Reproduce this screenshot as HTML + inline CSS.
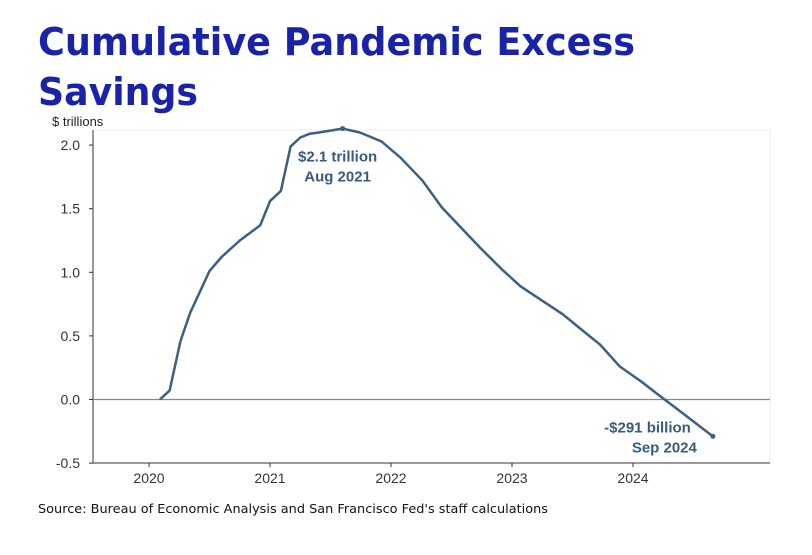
<!DOCTYPE html>
<html><head><meta charset="utf-8"><style>
body{margin:0;background:#fff;width:812px;height:550px;overflow:hidden;font-family:"Liberation Sans",sans-serif}
</style></head><body>
<svg id="chart" width="812" height="550" xmlns="http://www.w3.org/2000/svg">
<text x="38" y="55" font-family="DejaVu Sans, sans-serif" font-weight="bold" font-size="38" fill="#1a22a8" textLength="597" lengthAdjust="spacingAndGlyphs">Cumulative Pandemic Excess</text>
<text x="38" y="105" font-family="DejaVu Sans, sans-serif" font-weight="bold" font-size="38" fill="#1a22a8" textLength="160" lengthAdjust="spacingAndGlyphs">Savings</text>
<text x="52" y="126" font-size="13" fill="#222">$ trillions</text>
<g id="axes"></g>
<path id="series-line" fill="none" stroke="#3d5f80" stroke-width="2.5" stroke-linejoin="round"/>
<g id="marks"></g>
<text x="38" y="513" font-family="DejaVu Sans, sans-serif" font-size="12.5" fill="#111" textLength="510" lengthAdjust="spacingAndGlyphs">Source: Bureau of Economic Analysis and San Francisco Fed's staff calculations</text>
</svg>
<script>
const dates=[2020.09,2020.17,2020.26,2020.34,2020.50,2020.60,2020.75,2020.92,2021.0,2021.09,2021.17,2021.25,2021.33,2021.41,2021.60,2021.74,2021.92,2022.08,2022.26,2022.42,2022.74,2022.92,2023.07,2023.42,2023.60,2023.73,2023.89,2024.07,2024.22,2024.40,2024.66];
const values=[0.0,0.07,0.46,0.68,1.01,1.12,1.25,1.37,1.56,1.64,1.99,2.06,2.09,2.10,2.13,2.10,2.03,1.90,1.72,1.51,1.19,1.02,0.89,0.67,0.53,0.43,0.26,0.14,0.03,-0.10,-0.29];
const yTicks=[-0.5,0.0,0.5,1.0,1.5,2.0];
const xTicks=[2020,2021,2022,2023,2024];
const annotations=[{i:14,lines:["$2.1 trillion","Aug 2021"]},{i:30,lines:["-$291 billion","Sep 2024"]}];
const NS="http://www.w3.org/2000/svg";
const L=93,R=770,T=130,B=463;
const xs=t=>149+(t-2020)*121;
const ys=v=>399.5-v*127.2;
function mk(tag,attrs,parent){const e=document.createElementNS(NS,tag);for(const k in attrs)e.setAttribute(k,attrs[k]);parent.appendChild(e);return e;}
const ax=document.getElementById('axes');
let e=mk('rect',{x:L,y:T,width:R-L,height:B-T,fill:'none',stroke:'#eee'},ax);


e=mk('line',{x1:L,x2:L,y1:T,y2:B,stroke:'#333','stroke-width':1},ax);


e=mk('line',{x1:L,x2:R,y1:B,y2:B,stroke:'#333','stroke-width':1},ax);


e=mk('line',{x1:L,x2:R,y1:ys(0),y2:ys(0),stroke:'#888','stroke-width':1.3},ax);


yTicks.forEach(v=>{
 const y=ys(v);
 let t=mk('line',{x1:L-4,x2:L,y1:y,y2:y,stroke:'#333'},ax);
 
 
 t=mk('text',{x:L-13,y:y+5,'text-anchor':'end','font-size':'14',fill:'#333'},ax);
 t.textContent=v.toFixed(1);
 
 
});
xTicks.forEach(v=>{
 const x=xs(v);
 let t=mk('line',{x1:x,x2:x,y1:B,y2:B+4,stroke:'#333'},ax);
 
 
 t=mk('text',{x:x,y:B+20,'text-anchor':'middle','font-size':'14',fill:'#333'},ax);
 t.textContent=String(v);
 
 
});
document.getElementById('series-line').setAttribute('d',dates.map((d,i)=>(i?'L':'M')+xs(d).toFixed(1)+','+ys(values[i]).toFixed(1)).join(''));
const mg=document.getElementById('marks');
annotations.forEach((a,k)=>{
 const x=xs(dates[a.i]),y=ys(values[a.i]);
 let c=mk('circle',{cx:x,cy:y,r:2.5,fill:'#3d5f80'},mg);
 
 
 a.lines.forEach((s,j)=>{
  let t;
  if(k===0) t=mk('text',{x:x-5,y:y+33+j*20,'text-anchor':'middle','font-size':'15','font-weight':'bold',fill:'#3a5a7e'},mg);
  else t=mk('text',{x:x-(j?16:22),y:y-4+j*20,'text-anchor':'end','font-size':'15','font-weight':'bold',fill:'#3a5a7e'},mg);
  t.textContent=s;
  
  
 });
});
</script>
</body></html>
